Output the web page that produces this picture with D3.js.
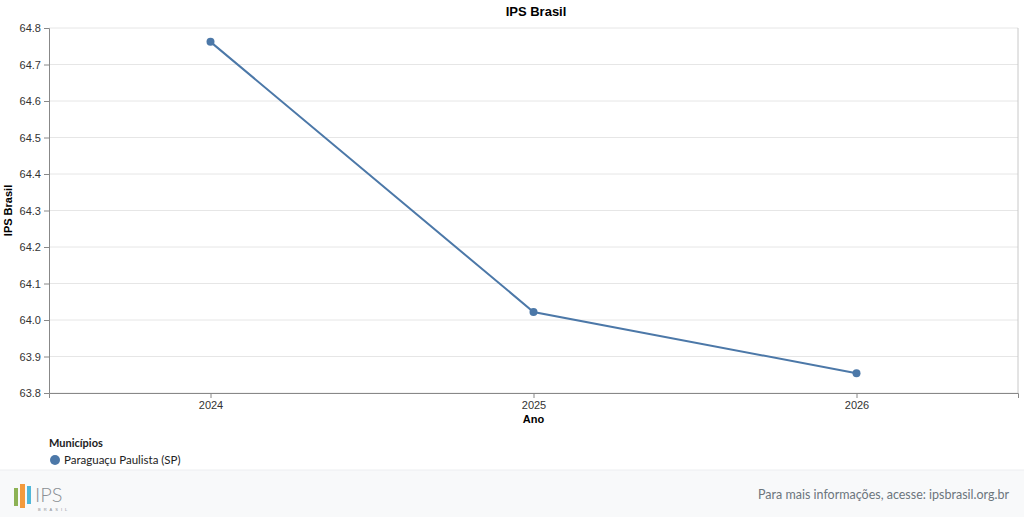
<!DOCTYPE html>
<html><head><meta charset="utf-8">
<script src="https://cdn.jsdelivr.net/npm/d3@7"></script>
<style>
body{margin:0;background:#fff;font-family:Nunito,"Noto Sans",sans-serif;}
</style></head>
<body><svg id="chart" width="1024" height="517"></svg>
<script>
const years = ['2024', '2025', '2026'];
const values = [64.762, 64.022, 63.854];
const yTicks = [63.8, 63.9, 64.0, 64.1, 64.2, 64.3, 64.4, 64.5, 64.6, 64.7, 64.8];
const seriesName = 'Paraguaçu Paulista (SP)';

const svg = d3.select('#chart');
const margin = { top: 28, left: 49, right: 6, bottom: 124 };
const width = 1024 - margin.left - margin.right;
const height = 517 - margin.top - margin.bottom;
const color = '#4c78a8';
const font = 'Liberation Sans, Arial, sans-serif';

// footer
svg.append('rect').attr('x', 0).attr('y', 470).attr('width', 1024).attr('height', 47).attr('fill', '#f8f9fa');
svg.append('line').attr('x1', 0).attr('x2', 1024).attr('y1', 470).attr('y2', 470).attr('stroke', '#eceef0');
svg.append('text').attr('x', 1009).attr('y', 499).attr('text-anchor', 'end')
  .attr('font-size', 12.5).attr('fill', '#6c757d').attr('font-family', 'Lato, sans-serif')
  .text('Para mais informações, acesse: ipsbrasil.org.br');
const logo = svg.append('g').attr('transform', 'translate(14,482)');
logo.append('rect').attr('x', 0).attr('y', 6).attr('width', 4).attr('height', 18).attr('fill', '#8db255');
logo.append('rect').attr('x', 6).attr('y', 2).attr('width', 5).attr('height', 24).attr('fill', '#f39a3d');
logo.append('rect').attr('x', 13).attr('y', 4).attr('width', 4).attr('height', 18).attr('fill', '#4fb7d9');
logo.append('text').attr('x', 21).attr('y', 20).attr('font-size', 20).attr('fill', '#8a8f94')
  .attr('font-family', 'Lato, sans-serif').attr('font-weight', 300).text('IPS');
logo.append('text').attr('x', 24).attr('y', 29).attr('font-size', 4).attr('fill', '#8a8f94')
  .attr('letter-spacing', 3).attr('font-family', font).text('BRASIL');

const g = svg.append('g').attr('transform', `translate(${margin.left},${margin.top})`);
const x = d3.scalePoint().domain(years).range([0, width]).padding(0.5);
const y = d3.scaleLinear().domain([63.8, 64.8]).range([height, 0]);

// grid
g.append('g').selectAll('line').data(yTicks).join('line')
  .attr('x1', 0).attr('x2', width).attr('y1', d => y(d)).attr('y2', d => y(d))
  .attr('stroke', '#e6e6e6');
g.append('line').attr('x1', width).attr('x2', width).attr('y1', 0).attr('y2', height).attr('stroke', '#c8c8c8');

const yAxis = g.append('g').call(d3.axisLeft(y).tickValues(yTicks).tickFormat(d3.format('.1f')).tickSize(5).tickPadding(3));
const xAxis = g.append('g').attr('transform', `translate(0,${height})`).call(d3.axisBottom(x).tickSize(5).tickPadding(3));
[yAxis, xAxis].forEach(a => {
  a.select('.domain').attr('stroke', '#888');
  a.selectAll('.tick line').attr('stroke', '#888');
  a.selectAll('text').attr('font-family', font).attr('font-size', 11).attr('fill', '#333');
});

g.append('text').attr('x', width / 2).attr('y', height + 30).attr('text-anchor', 'middle')
  .attr('font-family', font).attr('font-size', 11).attr('font-weight', 'bold').text('Ano');
g.append('text').attr('transform', `translate(-37,${height / 2}) rotate(-90)`).attr('text-anchor', 'middle')
  .attr('font-family', font).attr('font-size', 11).attr('font-weight', 'bold').text('IPS Brasil');
svg.append('text').attr('x', 536).attr('y', 16).attr('text-anchor', 'middle')
  .attr('font-family', font).attr('font-size', 13).attr('font-weight', 'bold').text('IPS Brasil');

const pts = years.map((yr, i) => ({ yr, v: values[i] }));
g.append('path').datum(pts).attr('fill', 'none').attr('stroke', color).attr('stroke-width', 2)
  .attr('d', d3.line().x(d => x(d.yr)).y(d => y(d.v)));
g.selectAll('circle').data(pts).join('circle')
  .attr('cx', d => x(d.yr)).attr('cy', d => y(d.v)).attr('r', 4).attr('fill', color);

// legend
svg.append('text').attr('x', 49).attr('y', 447).attr('font-family', 'Lato, sans-serif')
  .attr('font-size', 11).attr('font-weight', 'bold').attr('fill', '#222').text('Municípios');
svg.append('circle').attr('cx', 55).attr('cy', 460).attr('r', 5).attr('fill', color);
svg.append('text').attr('x', 64).attr('y', 464).attr('font-family', 'Lato, sans-serif')
  .attr('font-size', 11.5).attr('fill', '#222').text(seriesName);
</script></body></html>
